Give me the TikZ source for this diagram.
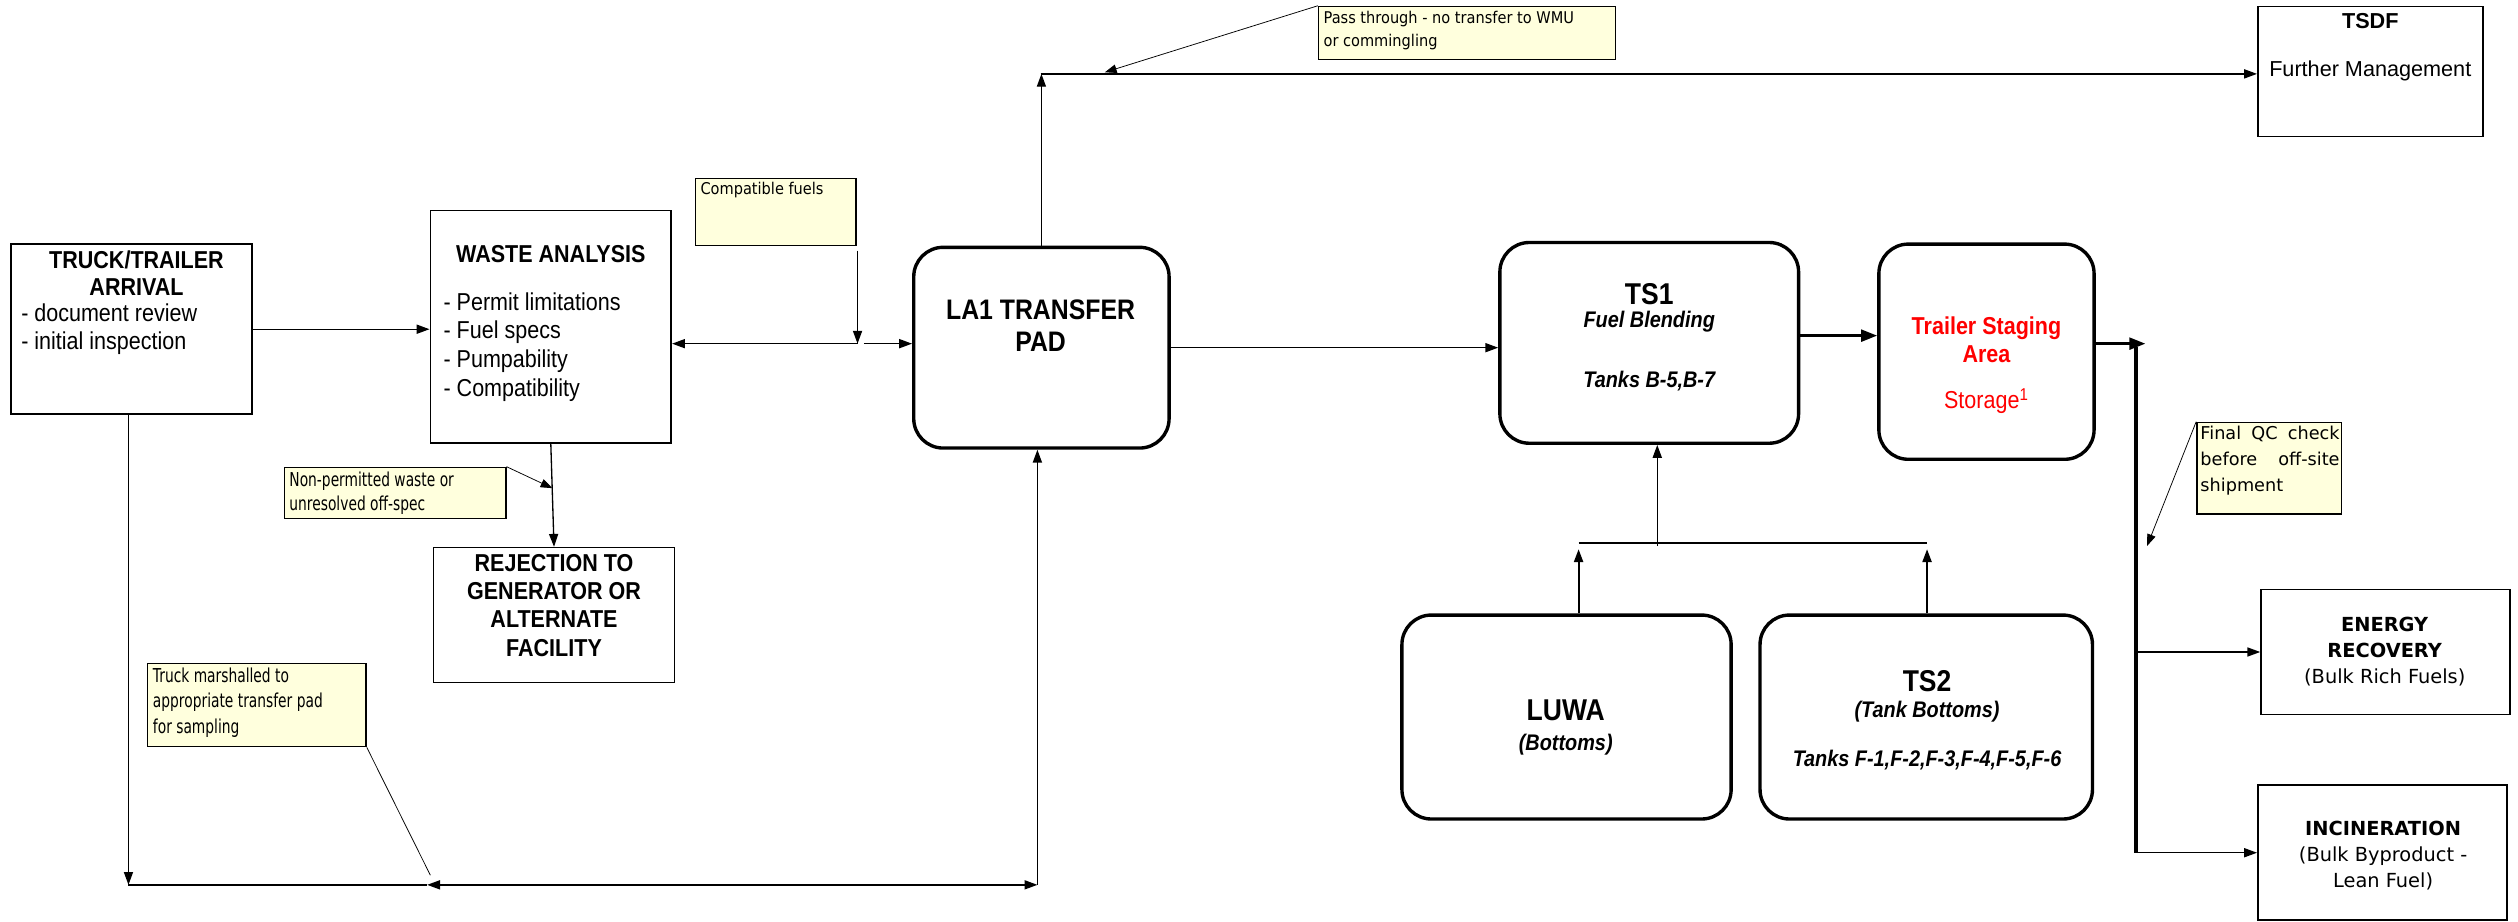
\documentclass[tikz,border=0pt]{standalone}
\usepackage{fontspec}
\setmainfont{Liberation Sans}
\newfontfamily\narrowfont[FakeStretch=0.88]{Liberation Sans}
\newfontfamily\notefont[FakeStretch=0.9]{DejaVu Sans}
\newfontfamily\widenotefont{DejaVu Sans}
\newfontfamily\notenarrowfont[FakeStretch=0.72]{DejaVu Sans}
\usetikzlibrary{arrows.meta}
\definecolor{notefill}{RGB}{255,255,221}
\definecolor{stagered}{RGB}{255,0,0}

\tikzset{
  plainbox/.style={draw,line width=0.9pt,inner sep=0pt},
  padbox/.style={draw,line width=1.8pt,rounded corners=0.55cm,inner sep=0pt},
  notebox/.style={draw,fill=notefill,line width=0.7pt,inner sep=0pt},
  head/.style={font=\narrowfont\bfseries\fontsize{13}{14.5}\selectfont,align=center,inner sep=0pt},
  bighead/.style={font=\narrowfont\bfseries\fontsize{16}{18}\selectfont,align=center,inner sep=0pt},
  subhead/.style={font=\narrowfont\bfseries\itshape\fontsize{12}{14}\selectfont,align=center,inner sep=0pt},
  listtext/.style={font=\narrowfont\fontsize{13}{14.5}\selectfont,align=left,inner sep=0pt},
  notetext/.style={font=\notefont\fontsize{8.6}{12.2}\selectfont,align=left,inner sep=0pt,anchor=north west},
  narrownote/.style={font=\notenarrowfont\fontsize{10.2}{12.8}\selectfont,align=left,inner sep=0pt,anchor=north west},
  outtext/.style={font=\widenotefont\fontsize{10.3}{13.8}\selectfont,align=center,inner sep=0pt},
  flow/.style={-{Triangle[length=0.24cm,width=0.17cm]},line width=0.7pt},
  heavyflow/.style={-{Triangle[length=0.3cm,width=0.22cm]},line width=1.5pt},
  callout/.style={-{Triangle[length=0.22cm,width=0.16cm]},line width=0.4pt},
}

\begin{document}
\begin{tikzpicture}[x=0.03cm,y=-0.03cm]
  \useasboundingbox (0,0) rectangle (1568,574);

  % receiving side
  \node[plainbox,minimum width=4.5cm,minimum height=3.18cm] (truck) at (82,205) {};
  \node[head] (truck-head) at (85,170) {TRUCK/TRAILER\\ARRIVAL};
  \node[listtext,anchor=west] (truck-list) at (13,205) {- document review\\- initial inspection};

  \node[plainbox,minimum width=4.5cm,minimum height=4.35cm] (waste) at (343,203.5) {};
  \node[head] (waste-head) at (343,158) {WASTE ANALYSIS};
  \node[listtext,anchor=west,font=\narrowfont\fontsize{13}{15.3}\selectfont] (waste-list) at (276,216)
    {- Permit limitations\\- Fuel specs\\- Pumpability\\- Compatibility};

  \node[plainbox,minimum width=4.5cm,minimum height=2.52cm] (reject) at (345,383) {};
  \node[head,font=\narrowfont\bfseries\fontsize{13}{15}\selectfont] (reject-text) at (345,377)
    {REJECTION TO\\GENERATOR OR\\ALTERNATE\\FACILITY};

  \node[padbox,minimum width=4.77cm,minimum height=3.75cm] (la1) at (648.5,216.5) {};
  \node[head,font=\narrowfont\bfseries\fontsize{15}{17}\selectfont] (la1-text) at (648,203) {LA1 TRANSFER\\PAD};

  % blending and staging
  \node[padbox,minimum width=5.58cm,minimum height=3.75cm] (ts1) at (1027,213.5) {};
  \node[bighead] (ts1-head) at (1027,183) {TS1};
  \node[subhead] (ts1-sub) at (1027,200) {Fuel Blending};
  \node[subhead] (ts1-tanks) at (1027,237) {Tanks B-5,B-7};

  \node[padbox,minimum width=4.02cm,minimum height=4.02cm] (stage) at (1237,219) {};
  \node[head,text=stagered] (stage-head) at (1237,211.5) {Trailer Staging\\Area};
  \node[listtext,text=stagered] (stage-sub) at (1237,250) {Storage\textsuperscript{1}};

  \node[plainbox,minimum width=4.2cm,minimum height=2.43cm] (tsdf) at (1476,44.5) {};
  \node[font=\bfseries\fontsize{11.5}{13}\selectfont,inner sep=0pt] (tsdf-head) at (1476,13) {TSDF};
  \node[font=\fontsize{11.5}{13}\selectfont,inner sep=0pt] (tsdf-sub) at (1476,44) {Further Management};

  \node[padbox,minimum width=6.15cm,minimum height=3.81cm] (luwa) at (975.5,446.5) {};
  \node[bighead] (luwa-head) at (975,442) {LUWA};
  \node[subhead] (luwa-sub) at (975,464) {(Bottoms)};

  \node[padbox,minimum width=6.21cm,minimum height=3.81cm] (ts2) at (1199.5,446.5) {};
  \node[bighead] (ts2-head) at (1200,424) {TS2};
  \node[subhead] (ts2-sub) at (1200,443) {(Tank Bottoms)};
  \node[subhead] (ts2-tanks) at (1200,473) {Tanks F-1,F-2,F-3,F-4,F-5,F-6};

  % off-site outlets
  \node[plainbox,minimum width=4.65cm,minimum height=2.34cm] (energy) at (1485.5,406) {};
  \node[outtext] (energy-text) at (1485,405.5) {\textbf{ENERGY}\\\textbf{RECOVERY}\\(Bulk Rich Fuels)};
  \node[plainbox,minimum width=4.65cm,minimum height=2.52cm] (incin) at (1483.5,531) {};
  \node[outtext] (incin-text) at (1484,532.5) {\textbf{INCINERATION}\\(Bulk Byproduct -\\Lean Fuel)};

  % notes
  \node[notebox,minimum width=3cm,minimum height=1.26cm] (compat) at (483,132) {};
  \node[notetext] (compat-text) at (436,113) {Compatible fuels};
  \node[notebox,minimum width=5.55cm,minimum height=0.99cm] (pass) at (913.5,20.5) {};
  \node[notetext] (pass-text) at (824,6.5) {Pass through - no transfer to WMU\\or commingling};
  \node[notebox,minimum width=4.14cm,minimum height=0.96cm] (nonperm) at (246,307) {};
  \node[narrownote] (nonperm-text) at (180,293.5) {Non-permitted waste or\\unresolved off-spec};
  \node[notebox,minimum width=4.08cm,minimum height=1.56cm] (marshal) at (160,439) {};
  \node[narrownote,font=\notenarrowfont\fontsize{10.2}{13.6}\selectfont] (marshal-text) at (95,415.5)
    {Truck marshalled to\\appropriate transfer pad\\for sampling};
  \node[notebox,minimum width=2.7cm,minimum height=1.71cm] (finalqc) at (1413,291.5) {};
  \node[notetext,font=\widenotefont\fontsize{9.4}{13.8}\selectfont,text width=2.6cm,align=justify] (finalqc-text) at (1370,265)
    {Final QC check before off-site shipment};

  \coordinate (fuelin) at (534,214);
  \coordinate (passturn) at (648,46);
  \coordinate (passtip) at (688,45);
  \coordinate (rejtip) at (344,304);
  \coordinate (botleft) at (80,551);
  \coordinate (botmid) at (266,551);
  \coordinate (botright) at (646,551);
  \coordinate (marshaltip) at (268,545);
  \coordinate (split) at (1336,214);
  \coordinate (bustop) at (1330,216);
  \coordinate (busbot) at (1330,531);
  \coordinate (qctip) at (1337,340);
  \coordinate (mergeL) at (983,338);
  \coordinate (mergeR) at (1200,338);
  \coordinate (merge) at (1032,338);

  % connectors
  \draw[flow] (truck.east) -- (truck.east -| waste.west);
  \draw[flow] (fuelin) -- (fuelin -| waste.east);
  \draw[flow] ([xshift=0.12cm]fuelin) -- (fuelin -| la1.west);
  \draw[flow] ([yshift=-0.08cm]fuelin |- compat.south) -- (fuelin);
  \draw[flow] (la1.east) -- (la1.east -| ts1.west);
  \draw[flow] (la1.north) -- (la1.north |- passturn);
  \draw[flow] (passturn) -- (passturn -| tsdf.west);
  \draw[callout] (pass.north west) -- (passtip);
  \draw[flow] (waste.south) -- (reject.north);
  \draw[callout] (nonperm.north east) -- (rejtip);
  \draw[flow] (truck.south -| botleft) -- (botleft);
  \draw[line width=0.7pt] (botleft) -- (botmid);
  \draw[{Triangle[length=0.24cm,width=0.17cm]}-{Triangle[length=0.24cm,width=0.17cm]},line width=0.7pt] (botmid) -- (botright);
  \draw[flow] (botright) -- (botright |- la1.south);
  \draw[line width=0.4pt] (marshal.south east) -- (marshaltip);
  \draw[heavyflow] ([yshift=0.135cm]ts1.east) -- ([yshift=0.135cm]ts1.east -| stage.west);
  \draw[heavyflow] (stage.east |- split) -- (split);
  \draw[line width=2pt] (bustop) -- (busbot);
  \draw[flow] (bustop |- energy.west) -- (energy.west);
  \draw[flow] (busbot) -- (busbot -| incin.west);
  \draw[callout] (finalqc.north west) -- (qctip);
  \draw[flow,line width=1pt] (luwa.north -| mergeL) -- ([yshift=-0.12cm]mergeL);
  \draw[flow,line width=1pt] (ts2.north -| mergeR) -- ([yshift=-0.12cm]mergeR);
  \draw[line width=0.8pt] (mergeL) -- (mergeR);
  \draw[flow] ([yshift=-0.06cm]merge) -- (merge |- ts1.south);
\end{tikzpicture}
\end{document}
